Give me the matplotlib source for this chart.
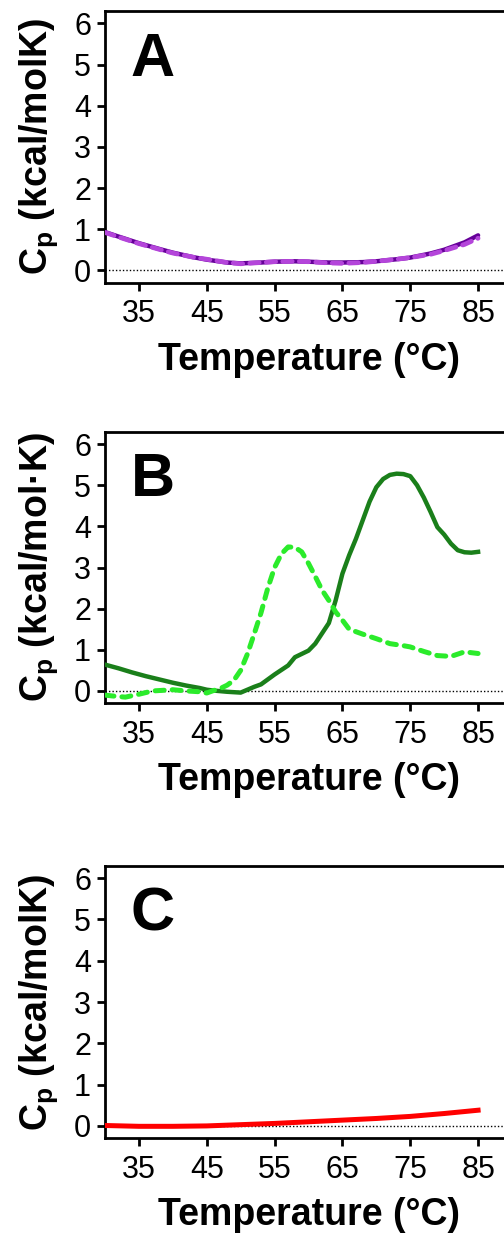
import matplotlib
matplotlib.use("Agg")
import matplotlib.pyplot as plt

plt.rcParams["font.family"] = ["Liberation Sans", "DejaVu Sans"]
plt.rcParams["mathtext.fontset"] = "custom"
plt.rcParams["mathtext.bf"] = "Liberation Sans:bold"
plt.rcParams["mathtext.rm"] = "Liberation Sans"

# Panel A (two overlapping curves)
temp_a = [30, 32, 35, 38, 40, 43, 45, 48, 50, 53, 55, 58, 60, 63, 65, 68, 70, 73, 75, 78, 80, 83, 85]
cp_a_solid = [0.93, 0.82, 0.66, 0.52, 0.43, 0.32, 0.26, 0.19, 0.17, 0.19, 0.21, 0.22, 0.21, 0.19, 0.19, 0.20, 0.22, 0.27, 0.31, 0.41, 0.50, 0.68, 0.85]
cp_a_dash = [0.92, 0.81, 0.65, 0.51, 0.42, 0.32, 0.27, 0.19, 0.16, 0.19, 0.21, 0.22, 0.21, 0.18, 0.17, 0.19, 0.22, 0.27, 0.31, 0.39, 0.48, 0.63, 0.78]

# Panel B
temp_b_solid = [30, 32, 34, 36, 38, 40, 42, 44, 45, 46, 48, 50, 52, 53, 55, 57, 58, 60, 61, 62, 63, 64, 65, 66, 67,
                68, 69, 70, 71, 72, 73, 74, 75, 76, 77, 78, 79, 80, 81, 82, 83, 84, 85]
cp_b_solid = [0.64, 0.55, 0.45, 0.36, 0.28, 0.20, 0.13, 0.07, 0.03, 0.01, -0.02, -0.04, 0.10, 0.16, 0.40, 0.62, 0.82, 0.98, 1.15, 1.40, 1.65, 2.20, 2.85, 3.30, 3.70,
              4.15, 4.60, 4.95, 5.15, 5.25, 5.28, 5.27, 5.22, 5.00, 4.70, 4.35, 3.98, 3.80, 3.58, 3.42, 3.37, 3.36, 3.38]

temp_b_dash = [30, 31, 33, 35, 37, 40, 42, 44, 45, 46, 47, 48, 49, 50, 51, 52, 53, 54, 55, 56, 57, 58, 59, 60, 61,
               62, 63, 64, 65, 66, 68, 70, 72, 74, 75, 77, 79, 81, 83, 85]
cp_b_dash = [-0.10, -0.12, -0.15, -0.08, 0.00, 0.03, 0.00, -0.02, -0.05, 0.01, 0.06, 0.14, 0.26, 0.50, 0.90, 1.39, 1.90, 2.50, 3.00, 3.33, 3.50, 3.49, 3.38, 3.10, 2.78,
             2.45, 2.20, 1.92, 1.72, 1.50, 1.38, 1.27, 1.15, 1.10, 1.07, 0.96, 0.86, 0.84, 0.95, 0.91]

# Panel C
temp_c = [30, 35, 40, 45, 50, 55, 60, 65, 70, 75, 80, 85]
cp_c = [0.01, -0.01, -0.01, 0.00, 0.03, 0.06, 0.10, 0.14, 0.18, 0.23, 0.30, 0.38]

x_ticks = [35, 45, 55, 65, 75, 85]
y_ticks = [0, 1, 2, 3, 4, 5, 6]

fig = plt.figure(figsize=(5.04, 12.34), dpi=100)

W, H = 504, 1234
ancho = 407 / W
izq = 105 / W
paneles = [
    (11, 282.7, "A", "(kcal/molK)"),
    (431.7, 703.3, "B", "(kcal/mol\u00b7K)"),
    (865.7, 1138.3, "C", "(kcal/molK)"),
]

ejes = []
for top, bottom, letra, unidad in paneles:
    ax = fig.add_axes([izq, 1 - bottom / H, ancho, (bottom - top) / H])
    ax.set_xlim(30, 90)
    ax.set_ylim(-0.3, 6.3)
    ax.axhline(0, color="black", lw=1.0, linestyle=(0, (1, 1.5)), zorder=1)
    ax.set_xticks(x_ticks)
    ax.set_yticks(y_ticks)
    ax.tick_params(axis="both", direction="out", length=6, width=2, labelsize=22, pad=4)
    ax.tick_params(axis="x", pad=6)
    ax.spines["right"].set_visible(False)
    for s in ["left", "bottom", "top"]:
        ax.spines[s].set_linewidth(2)
    ax.set_xlabel("Temperature (\u00b0C)", fontsize=27, fontweight="bold", labelpad=9)
    ax.set_ylabel(r"$\mathbf{C_p}$ " + unidad, fontsize=27, fontweight="bold", labelpad=10)
    ax.text(33.8, 4.73, letra, fontsize=44, fontweight="bold", ha="left", va="baseline")
    ejes.append(ax)

ax_a, ax_b, ax_c = ejes

ax_a.plot(temp_a, cp_a_solid, color="#660099", lw=3.2, solid_capstyle="round", zorder=3)
ax_a.plot(temp_a, cp_a_dash, color="#B445DA", lw=3.4, dashes=(2.0, 1.5), dash_capstyle="round", zorder=4)

ax_b.plot(temp_b_solid, cp_b_solid, color="#1A7F1A", lw=3.2, zorder=3)
ax_b.plot(temp_b_dash, cp_b_dash, color="#2BEB2B", lw=3.6, dashes=(1.8, 1.6), dash_capstyle="round", zorder=4)

ax_c.plot(temp_c, cp_c, color="#FF0000", lw=3.6, zorder=3)

fig.savefig("out.png", dpi=100)
